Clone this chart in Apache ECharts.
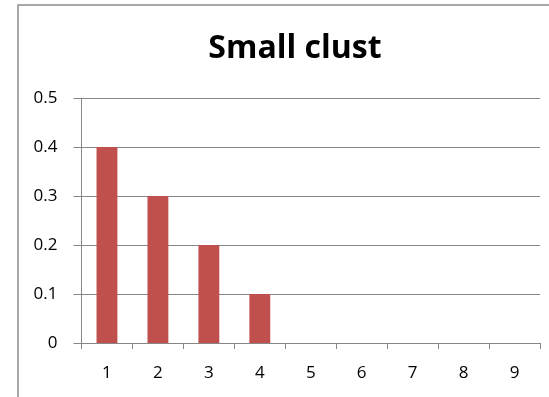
<!DOCTYPE html>
<html>
<head>
<meta charset="utf-8">
<style>
  html, body { margin: 0; padding: 0; background: #fff; }
  #chart { width: 549px; height: 397px; }
</style>
<script src="https://cdn.jsdelivr.net/npm/echarts@6/dist/echarts.min.js"></script>
</head>
<body>
<div id="chart"></div>
<script>
// Cluster sizes 1..9 and the share of each
const categories = ['1', '2', '3', '4', '5', '6', '7', '8', '9'];
const shares = [0.4, 0.3, 0.2, 0.1, 0, 0, 0, 0, 0];
const titleText = 'Small clust';

const FONT = '"Open Sans", Lato, sans-serif';
const GRAY = '#868686';

const chart = echarts.init(document.getElementById('chart'), null, { renderer: 'canvas' });
chart.setOption({
  animation: false,
  backgroundColor: '#ffffff',
  graphic: [{
    type: 'rect',
    shape: { x: 18, y: 5, width: 560, height: 420 },
    style: { fill: 'none', stroke: '#8c8c8c', lineWidth: 1.5 },
    silent: true
  }],
  title: {
    text: titleText,
    left: 290,
    textAlign: 'center',
    top: 28,
    textStyle: { fontFamily: FONT, fontSize: 32, fontWeight: 'bold', color: '#000' }
  },
  grid: { left: 81.5, right: 9, top: 98, bottom: 54, containLabel: false },
  xAxis: {
    type: 'category',
    data: categories,
    boundaryGap: true,
    axisLine: { lineStyle: { color: GRAY, width: 1 } },
    axisTick: { show: true, length: 6, alignWithLabel: false, lineStyle: { color: GRAY } },
    axisLabel: { margin: 22, fontFamily: FONT, fontSize: 17, color: '#000' },
    splitLine: { show: false }
  },
  yAxis: {
    type: 'value',
    min: 0,
    max: 0.5,
    interval: 0.1,
    axisLine: { show: true, lineStyle: { color: GRAY, width: 1 } },
    axisTick: { show: true, length: 8, lineStyle: { color: GRAY } },
    axisLabel: { margin: 24, fontFamily: FONT, fontSize: 17, color: '#000' },
    splitLine: { show: true, lineStyle: { color: GRAY, width: 1 } }
  },
  series: [{
    type: 'bar',
    data: shares,
    barWidth: '41%',
    itemStyle: { color: '#C0504D' }
  }]
});
</script>
</body>
</html>
